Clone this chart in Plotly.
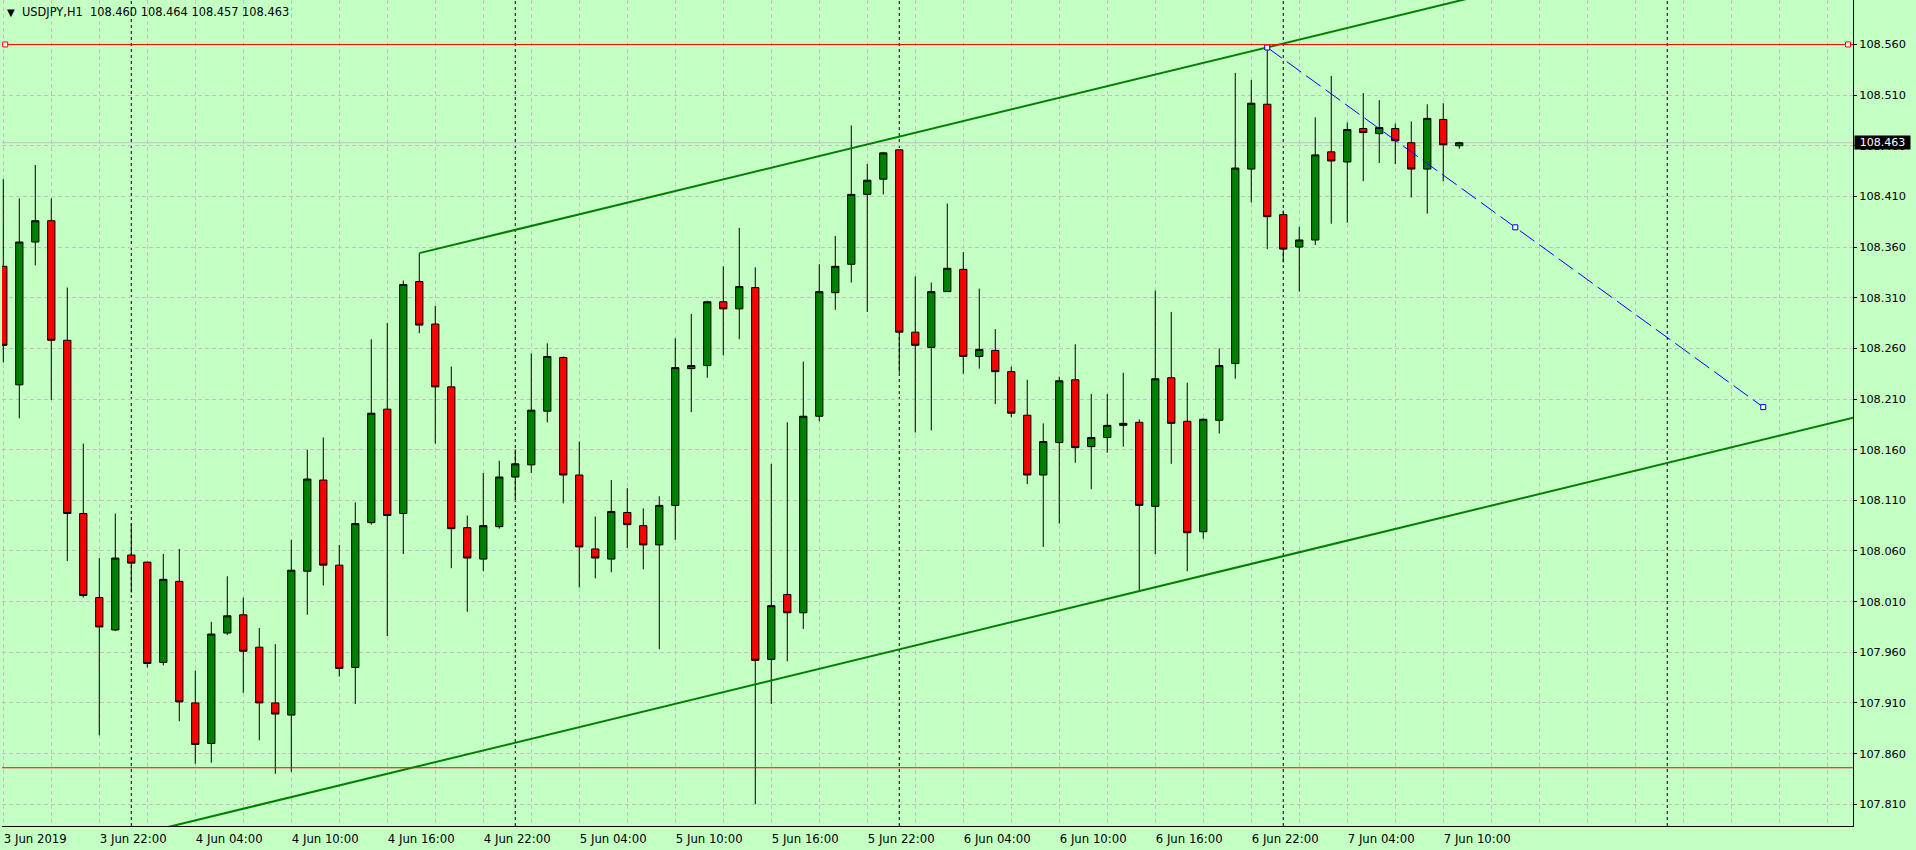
import plotly.graph_objects as go

# ---------------- data (USDJPY H1, bar 0 = 3 Jun 2019 16:00) ----------------
opens = [108.341, 108.224, 108.365, 108.386, 108.268, 108.097, 108.014, 107.982, 108.056, 108.049,
         107.950, 108.030, 107.910, 107.870, 107.979, 107.997, 107.965, 107.910, 107.898, 108.040,
         108.130, 108.046, 107.945, 108.088, 108.200, 108.097, 108.326, 108.284, 108.222, 108.083,
         108.052, 108.084, 108.133, 108.145, 108.198, 108.251, 108.135, 108.062, 108.052, 108.098,
         108.085, 108.066, 108.105, 108.240, 108.243, 108.306, 108.299, 108.320, 107.953, 108.017,
         107.999, 108.193, 108.315, 108.343, 108.412, 108.427, 108.456, 108.276, 108.261, 108.316,
         108.338, 108.252, 108.258, 108.237, 108.194, 108.135, 108.167, 108.229, 108.163, 108.172,
         108.184, 108.187, 108.104, 108.231, 108.188, 108.079, 108.189, 108.245, 108.437, 108.501,
         108.392, 108.360, 108.367, 108.454, 108.444, 108.477, 108.472, 108.477, 108.463, 108.437,
         108.486, 108.460]
highs = [108.427, 108.408, 108.441, 108.408, 108.320, 108.166, 108.053, 108.097, 108.087, 108.049,
         108.057, 108.062, 107.942, 107.990, 108.035, 108.014, 107.984, 107.968, 108.071, 108.160,
         108.172, 108.066, 108.108, 108.269, 108.285, 108.327, 108.354, 108.302, 108.242, 108.095,
         108.137, 108.149, 108.160, 108.255, 108.265, 108.252, 108.168, 108.094, 108.130, 108.122,
         108.102, 108.114, 108.270, 108.294, 108.307, 108.341, 108.379, 108.340, 108.146, 108.187,
         108.247, 108.343, 108.371, 108.480, 108.442, 108.454, 108.456, 108.331, 108.325, 108.403,
         108.355, 108.319, 108.279, 108.242, 108.229, 108.186, 108.232, 108.264, 108.215, 108.215,
         108.236, 108.190, 108.317, 108.296, 108.226, 108.191, 108.260, 108.532, 108.525, 108.557,
         108.396, 108.380, 108.488, 108.529, 108.483, 108.512, 108.505, 108.482, 108.484, 108.501,
         108.502, 108.464]
lows = [108.246, 108.191, 108.342, 108.209, 108.050, 108.014, 107.878, 107.981, 108.019, 107.945,
        107.947, 107.892, 107.850, 107.851, 107.977, 107.920, 107.873, 107.840, 107.842, 107.997,
        108.026, 107.936, 107.909, 108.086, 107.976, 108.057, 108.275, 108.166, 108.043, 108.000,
        108.040, 108.082, 108.110, 108.137, 108.187, 108.107, 108.024, 108.033, 108.039, 108.063,
        108.042, 107.963, 108.071, 108.197, 108.231, 108.253, 108.269, 107.810, 107.909, 107.951,
        107.983, 108.188, 108.298, 108.325, 108.296, 108.412, 108.236, 108.177, 108.179, 108.316,
        108.235, 108.240, 108.205, 108.192, 108.126, 108.064, 108.087, 108.147, 108.121, 108.157,
        108.163, 108.021, 108.057, 108.146, 108.040, 108.072, 108.176, 108.230, 108.404, 108.358,
        108.345, 108.316, 108.362, 108.383, 108.384, 108.425, 108.443, 108.442, 108.409, 108.393,
        108.425, 108.457]
closes = [108.263, 108.365, 108.386, 108.268, 108.097, 108.016, 107.985, 108.053, 108.048, 107.949,
          108.032, 107.911, 107.869, 107.978, 107.996, 107.961, 107.910, 107.899, 108.041, 108.131,
          108.046, 107.944, 108.087, 108.196, 108.095, 108.323, 108.283, 108.222, 108.082, 108.053,
          108.085, 108.133, 108.146, 108.199, 108.252, 108.135, 108.064, 108.053, 108.099, 108.086,
          108.066, 108.105, 108.241, 108.243, 108.306, 108.299, 108.321, 107.952, 108.006, 107.999,
          108.193, 108.316, 108.341, 108.412, 108.426, 108.453, 108.276, 108.263, 108.316, 108.339,
          108.252, 108.259, 108.237, 108.196, 108.135, 108.168, 108.228, 108.162, 108.172, 108.184,
          108.186, 108.105, 108.230, 108.186, 108.078, 108.190, 108.243, 108.438, 108.502, 108.390,
          108.358, 108.367, 108.451, 108.445, 108.476, 108.473, 108.478, 108.465, 108.437, 108.487,
          108.461, 108.463]
bars = list(range(len(opens)))

x_tick_bars = [0, 6, 12, 18, 24, 30, 36, 42, 48, 54, 60, 66, 72, 78, 84, 90]
x_tick_labels = ["3 Jun 2019", "3 Jun 22:00", "4 Jun 04:00", "4 Jun 10:00", "4 Jun 16:00",
                 "4 Jun 22:00", "5 Jun 04:00", "5 Jun 10:00", "5 Jun 16:00", "5 Jun 22:00",
                 "6 Jun 04:00", "6 Jun 10:00", "6 Jun 16:00", "6 Jun 22:00", "7 Jun 04:00",
                 "7 Jun 10:00"]
grid_bars = list(range(0, 116, 3))
day_separator_bars = [8, 32, 56, 80, 104]

y_tick_vals = [107.810, 107.860, 107.910, 107.960, 108.010, 108.060, 108.110, 108.160,
               108.210, 108.260, 108.310, 108.360, 108.410, 108.460, 108.510, 108.560]
y_tick_text = ["%.3f" % v for v in y_tick_vals]

symbol_title = "USDJPY,H1"
last_ohlc = [108.460, 108.464, 108.457, 108.463]
bid_price = 108.463

resistance_price = 108.560
support_price = 107.846
resistance_marker_bars = [0.12, 115.3]

channel_upper_bars = [26, 116]
channel_upper_prices = [108.354, 108.699]
channel_lower_bars = [0, 116]
channel_lower_prices = [107.748, 108.193]

trend_bars = [79, 94.5, 110]
trend_prices = [108.557, 108.3795, 108.202]

# ---------------- styling ----------------
BG = "#C4FFC4"
GRID = "#C0C0C0"
X_RANGE = [-0.081, 115.61]
Y_RANGE = [107.7885, 108.6039]

fig = go.Figure()

fig.add_trace(go.Candlestick(
    x=bars, open=opens, high=highs, low=lows, close=closes,
    increasing=dict(line=dict(color="black", width=1), fillcolor="#008000"),
    decreasing=dict(line=dict(color="black", width=1), fillcolor="#FF0000"),
    whiskerwidth=0, hoverinfo="skip",
))

fig.add_trace(go.Scatter(x=channel_upper_bars, y=channel_upper_prices, mode="lines",
                         line=dict(color="#008000", width=2), hoverinfo="skip"))
fig.add_trace(go.Scatter(x=channel_lower_bars, y=channel_lower_prices, mode="lines",
                         line=dict(color="#008000", width=2), hoverinfo="skip"))

fig.add_trace(go.Scatter(x=[trend_bars[0], trend_bars[-1]], y=[trend_prices[0], trend_prices[-1]],
                         mode="lines", line=dict(color="#0000FF", width=1, dash="18px,6px"),
                         hoverinfo="skip"))
fig.add_trace(go.Scatter(x=trend_bars, y=trend_prices, mode="markers",
                         marker=dict(symbol="square", size=5, color="white",
                                     line=dict(color="#0000FF", width=1)),
                         hoverinfo="skip"))

fig.add_trace(go.Scatter(x=X_RANGE, y=[resistance_price] * 2, mode="lines",
                         line=dict(color="#FF0000", width=1), hoverinfo="skip"))
fig.add_trace(go.Scatter(x=X_RANGE, y=[support_price] * 2, mode="lines",
                         line=dict(color="#FF0000", width=1), hoverinfo="skip"))
fig.add_trace(go.Scatter(x=resistance_marker_bars, y=[resistance_price] * 2, mode="markers",
                         marker=dict(symbol="square", size=5, color="white",
                                     line=dict(color="#FF0000", width=1)),
                         hoverinfo="skip", cliponaxis=False))

shapes = []
for b in day_separator_bars:
    shapes.append(dict(type="line", xref="x", yref="paper", x0=b, x1=b, y0=0, y1=1,
                       line=dict(color="black", width=1, dash="3px,3px"), layer="between"))
shapes.append(dict(type="line", xref="paper", yref="y", x0=0, x1=1, y0=bid_price, y1=bid_price,
                   line=dict(color="#C0C0C0", width=1), layer="between"))

annotations = [
    dict(xref="paper", yref="paper", x=0, y=1, xanchor="left", yanchor="middle",
         xshift=3, yshift=-12, text="\u25BC", showarrow=False,
         font=dict(family="DejaVu Sans", size=10, color="black")),
    dict(xref="paper", yref="paper", x=0, y=1, xanchor="left", yanchor="middle",
         xshift=18, yshift=-12,
         text=symbol_title + "\u00a0\u00a0" + " ".join("%.3f" % v for v in last_ohlc),
         showarrow=False, font=dict(family="DejaVu Sans", size=11.4, color="black")),
    dict(xref="paper", yref="y", x=1, y=bid_price, xanchor="left", yanchor="middle",
         xshift=1, text="%.3f" % bid_price, showarrow=False, bgcolor="black",
         width=55, height=13, borderpad=0,
         font=dict(family="DejaVu Sans", size=11, color="white")),
]

fig.update_layout(
    width=1916, height=850,
    margin=dict(l=2, r=63, t=0, b=24),
    paper_bgcolor=BG, plot_bgcolor=BG,
    showlegend=False, hovermode=False,
    boxgap=0.35,
    shapes=shapes, annotations=annotations,
    xaxis=dict(
        range=X_RANGE, rangeslider=dict(visible=False),
        tickvals=x_tick_bars, ticktext=x_tick_labels,
        ticklabelposition="outside right", ticks="",
        tickfont=dict(family="DejaVu Sans Condensed, DejaVu Sans", size=13, color="black"),
        showline=True, linecolor="black", linewidth=1,
        showgrid=True, gridcolor=GRID, griddash="4px,3px", gridwidth=1,
        minor=dict(tickvals=grid_bars, showgrid=True, gridcolor=GRID,
                   griddash="4px,3px", gridwidth=1, ticks=""),
        zeroline=False, fixedrange=True,
    ),
    yaxis=dict(
        side="right", range=Y_RANGE,
        tickvals=y_tick_vals, ticktext=y_tick_text,
        ticks="outside", ticklen=3, tickcolor="black", tickwidth=1,
        tickfont=dict(family="DejaVu Sans", size=11.3, color="black"),
        showline=True, linecolor="black", linewidth=1,
        showgrid=True, gridcolor=GRID, griddash="4px,3px", gridwidth=1,
        zeroline=False, fixedrange=True,
    ),
)

fig.write_html("out.html", config={"displayModeBar": False},
               post_script="document.body.style.margin='0';document.body.style.overflow='hidden';")
